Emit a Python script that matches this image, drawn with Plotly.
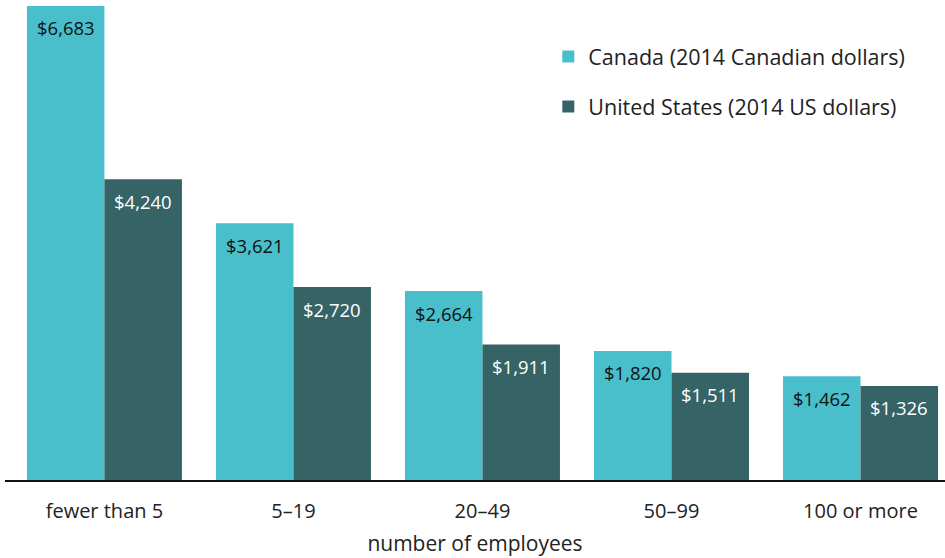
import plotly.graph_objects as go

categories = ["fewer than 5", "5–19", "20–49", "50–99", "100 or more"]
canada = [6683, 3621, 2664, 1820, 1462]
us = [4240, 2720, 1911, 1511, 1326]
series_names = ["Canada (2014 Canadian dollars)", "United States (2014 US dollars)"]
colors = ["#49BFCC", "#366366"]
label_colors = ["#111111", "#ffffff"]

FONT = "Open Sans"

fig = go.Figure()
for name, vals, col, g in zip(series_names, [canada, us], colors, ["a", "b"]):
    fig.add_trace(go.Bar(x=categories, y=vals, name=name, marker=dict(color=col, line=dict(width=0)),
                         legendgroup=g, hoverinfo="skip"))

bar_px = 77.5
for vals, tcol, sh in zip([canada, us], label_colors, [-bar_px / 2, bar_px / 2]):
    for c, v in zip(categories, vals):
        fig.add_annotation(x=c, y=v, text=f"${v:,}", showarrow=False, xshift=sh, yshift=-22,
                           yanchor="middle", font=dict(family=FONT, size=18.5, color=tcol))

fig.update_layout(
    width=945, height=558,
    margin=dict(l=5, r=0, t=0, b=78),
    paper_bgcolor="white", plot_bgcolor="white",
    barmode="group", bargap=0.18, bargroupgap=0,
    font=dict(family=FONT, color="#222222"),
    showlegend=True,
    legend=dict(x=0.578, xanchor="left", y=0.925, yanchor="top", font=dict(size=21.5, color="#222222"),
                tracegroupgap=19, traceorder="grouped", bgcolor="rgba(0,0,0,0)"),
    xaxis=dict(range=[-0.526, 4.447], showline=True, linecolor="#111111", linewidth=2,
               ticks="outside", ticklen=12, tickcolor="rgba(0,0,0,0)", showgrid=False,
               tickfont=dict(size=20, color="#222222"),
               title=dict(text="number of employees", font=dict(size=21, color="#222222"), standoff=13)),
    yaxis=dict(range=[0, 6767], visible=False, showgrid=False),
)

fig.write_html("out.html", config={"displayModeBar": False},
               post_script="document.body.style.margin='0';")
